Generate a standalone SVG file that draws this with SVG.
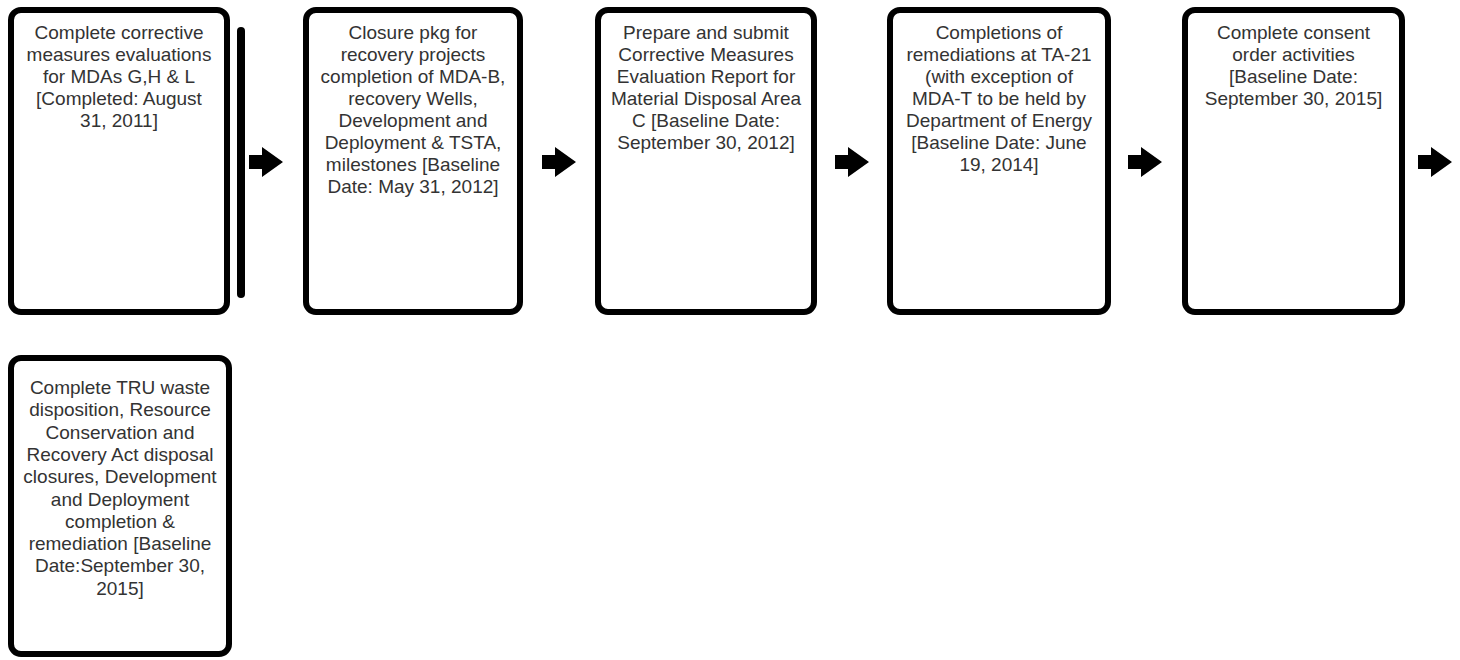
<svg xmlns="http://www.w3.org/2000/svg" width="1460" height="660" viewBox="0 0 1460 660">
<defs>
<style>
.box{fill:#fff;stroke:#000;stroke-width:6}
.t{font-family:"Liberation Sans",Arial,sans-serif;font-size:19px;fill:#333;text-anchor:middle}
.arr{fill:#000}
</style>
<path id="ar" d="M0,-7 H13 V-15 L34,0 L13,15 V7 H0 Z"/>
</defs>
<rect width="1460" height="660" fill="#fff"/>
<g id="connectors">
<line x1="241" y1="31" x2="241" y2="294" stroke="#000" stroke-width="8" stroke-linecap="round"/>
<use href="#ar" class="arr" x="249" y="162"/>
<use href="#ar" class="arr" x="542" y="162"/>
<use href="#ar" class="arr" x="835" y="162"/>
<use href="#ar" class="arr" x="1128" y="162"/>
<use href="#ar" class="arr" x="1418" y="162"/>
</g>
<g id="n1">
<rect class="box" x="11" y="10" width="216" height="302" rx="10"/>
<text class="t" x="119" y="38.5">Complete corrective<tspan x="119" dy="22">measures evaluations</tspan><tspan x="119" dy="22">for MDAs G,H &amp; L</tspan><tspan x="119" dy="22">[Completed: August</tspan><tspan x="119" dy="22">31, 2011]</tspan></text>
</g>
<g id="n2">
<rect class="box" x="306" y="10" width="214" height="302" rx="10"/>
<text class="t" x="413" y="38.5">Closure pkg for<tspan x="413" dy="22">recovery projects</tspan><tspan x="413" dy="22">completion of MDA-B,</tspan><tspan x="413" dy="22">recovery Wells,</tspan><tspan x="413" dy="22">Development and</tspan><tspan x="413" dy="22">Deployment &amp; TSTA,</tspan><tspan x="413" dy="22">milestones [Baseline</tspan><tspan x="413" dy="22">Date: May 31, 2012]</tspan></text>
</g>
<g id="n3">
<rect class="box" x="598" y="10" width="216" height="302" rx="10"/>
<text class="t" x="706" y="38.5">Prepare and submit<tspan x="706" dy="22">Corrective Measures</tspan><tspan x="706" dy="22">Evaluation Report for</tspan><tspan x="706" dy="22">Material Disposal Area</tspan><tspan x="706" dy="22">C [Baseline Date:</tspan><tspan x="706" dy="22">September 30, 2012]</tspan></text>
</g>
<g id="n4">
<rect class="box" x="890" y="10" width="218" height="302" rx="10"/>
<text class="t" x="999" y="38.5">Completions of<tspan x="999" dy="22">remediations at TA-21</tspan><tspan x="999" dy="22">(with exception of</tspan><tspan x="999" dy="22">MDA-T to be held by</tspan><tspan x="999" dy="22">Department of Energy</tspan><tspan x="999" dy="22">[Baseline Date: June</tspan><tspan x="999" dy="22">19, 2014]</tspan></text>
</g>
<g id="n5">
<rect class="box" x="1185" y="10" width="217" height="302" rx="10"/>
<text class="t" x="1293.5" y="38.5">Complete consent<tspan x="1293.5" dy="22">order activities</tspan><tspan x="1293.5" dy="22">[Baseline Date:</tspan><tspan x="1293.5" dy="22">September 30, 2015]</tspan></text>
</g>
<g id="n6">
<rect class="box" x="11" y="358" width="218" height="296" rx="10"/>
<text class="t" x="120" y="394">Complete TRU waste<tspan x="120" dy="22.3">disposition, Resource</tspan><tspan x="120" dy="22.3">Conservation and</tspan><tspan x="120" dy="22.3">Recovery Act disposal</tspan><tspan x="120" dy="22.3">closures, Development</tspan><tspan x="120" dy="22.3">and Deployment</tspan><tspan x="120" dy="22.3">completion &amp;</tspan><tspan x="120" dy="22.3">remediation [Baseline</tspan><tspan x="120" dy="22.3">Date:September 30,</tspan><tspan x="120" dy="22.3">2015]</tspan></text>
</g>
</svg>
